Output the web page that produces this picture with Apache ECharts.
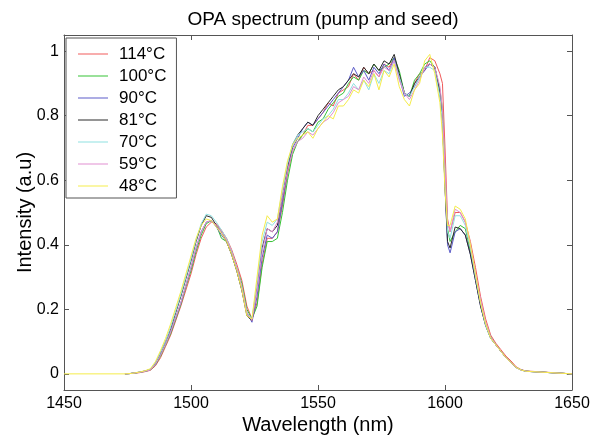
<!DOCTYPE html>
<html>
<head>
<meta charset="utf-8">
<script src="https://cdn.jsdelivr.net/npm/echarts@6/dist/echarts.min.js"></script>
<style>html,body{margin:0;padding:0;background:#fff}#c{width:602px;height:440px}</style>
</head>
<body>
<div id="c"></div>
<script>
const wavelength = [1450,
 1474,1476,1478,1480,1482,1484,1486,1488,1490,1492,1494,1496,1498,
 1500,1502,1504,1506,1508,1510,1512,1514,1516,1518,1520,1522,1524,1526,1528,
 1530,1532,1534,1536,1538,1540,1542,1544,1546,1548,1550,1552,1554,1556,1558,
 1560,1562,1564,1566,1568,1570,1572,1574,1576,1578,1580,1582,1584,1586,1588,1590,1592,1594,1596,1598,
 1599,1600,1601,
 1602,1604,1606,1608,1610,1612,1614,1616,1618,1620,1622,1624,1626,1628,1630,1632,
 1650];

const seriesNames = ['114°C','100°C','90°C','81°C','70°C','59°C','48°C'];
const seriesColors = ['#f05a5a','#35c235','#5a5ac8','#2a2a2a','#8fe0e0','#e08fd0','#f5ec4a'];

const t114 = [null,
 0,0.001,0.002,0.004,0.007,0.011,0.025,0.05,0.085,0.12,0.165,0.21,0.26,
 0.31,0.37,0.42,0.455,0.47,0.465,0.445,0.42,0.385,0.34,0.29,0.21,0.17,0.22,0.34,
 0.42,0.42,0.44,0.52,0.62,0.69,0.72,0.74,0.77,0.77,0.79,0.81,0.84,0.83,0.87,
 0.88,0.89,0.93,0.91,0.95,0.93,0.94,0.92,0.96,0.95,0.98,0.92,0.87,0.86,0.90,0.93,0.94,0.98,0.97,0.93,
 0.90,0.70,0.48,
 0.44,0.50,0.50,0.47,0.41,0.33,0.24,0.17,0.12,0.095,0.075,0.055,0.04,0.022,0.013,0.009,
 0];
const t100 = [null,
 0,0.001,0.003,0.005,0.008,0.012,0.028,0.055,0.09,0.125,0.17,0.215,0.27,
 0.32,0.38,0.43,0.465,0.475,0.46,0.42,0.41,0.38,0.33,0.28,0.2,0.17,0.21,0.33,
 0.41,0.41,0.42,0.50,0.60,0.68,0.72,0.74,0.76,0.75,0.78,0.79,0.82,0.84,0.86,
 0.87,0.90,0.92,0.91,0.94,0.93,0.96,0.94,0.95,0.96,0.98,0.94,0.87,0.86,0.91,0.93,0.96,0.97,0.95,0.88,
 0.82,0.62,0.45,
 0.41,0.44,0.46,0.45,0.38,0.30,0.22,0.155,0.115,0.09,0.07,0.05,0.035,0.02,0.012,0.008,
 0];
const t90 = [null,
 0,0.001,0.003,0.005,0.009,0.013,0.03,0.06,0.095,0.13,0.175,0.22,0.275,
 0.33,0.39,0.44,0.47,0.475,0.455,0.43,0.41,0.37,0.32,0.26,0.19,0.16,0.24,0.36,
 0.43,0.42,0.44,0.53,0.63,0.70,0.73,0.76,0.78,0.77,0.79,0.81,0.83,0.85,0.87,
 0.89,0.91,0.95,0.92,0.94,0.91,0.95,0.93,0.96,0.94,0.98,0.92,0.86,0.87,0.89,0.92,0.94,0.96,0.95,0.87,
 0.78,0.58,0.40,
 0.375,0.44,0.45,0.43,0.37,0.29,0.21,0.15,0.11,0.09,0.07,0.05,0.034,0.02,0.012,0.008,
 0];
const t81 = [null,
 0,0.001,0.003,0.006,0.009,0.014,0.033,0.065,0.1,0.14,0.19,0.24,0.295,
 0.35,0.41,0.46,0.49,0.485,0.46,0.44,0.41,0.37,0.32,0.26,0.18,0.165,0.27,0.39,
 0.45,0.44,0.46,0.55,0.64,0.71,0.74,0.76,0.78,0.77,0.80,0.82,0.84,0.86,0.88,
 0.89,0.91,0.93,0.92,0.95,0.93,0.96,0.94,0.97,0.96,0.99,0.93,0.87,0.86,0.90,0.92,0.95,0.96,0.95,0.87,
 0.79,0.58,0.41,
 0.39,0.455,0.45,0.43,0.37,0.29,0.21,0.15,0.11,0.09,0.07,0.05,0.034,0.02,0.012,0.008,
 0];
const t70 = [null,
 0,0.001,0.003,0.006,0.009,0.014,0.034,0.066,0.1,0.145,0.195,0.245,0.30,
 0.355,0.415,0.465,0.495,0.49,0.47,0.445,0.42,0.38,0.33,0.27,0.19,0.17,0.28,0.41,
 0.47,0.46,0.48,0.57,0.65,0.71,0.74,0.75,0.76,0.75,0.77,0.79,0.80,0.82,0.85,
 0.85,0.87,0.90,0.88,0.91,0.88,0.93,0.90,0.94,0.93,0.97,0.92,0.87,0.86,0.89,0.92,0.95,0.95,0.94,0.86,
 0.78,0.60,0.44,
 0.42,0.49,0.49,0.46,0.39,0.30,0.22,0.15,0.11,0.09,0.07,0.05,0.035,0.02,0.012,0.008,
 0];
const t59 = [null,
 0,0.001,0.003,0.005,0.008,0.012,0.03,0.058,0.092,0.13,0.175,0.22,0.275,
 0.33,0.39,0.44,0.47,0.475,0.46,0.44,0.415,0.38,0.33,0.27,0.19,0.165,0.26,0.38,
 0.45,0.44,0.47,0.55,0.63,0.69,0.72,0.73,0.75,0.74,0.76,0.78,0.79,0.81,0.84,
 0.85,0.86,0.89,0.88,0.92,0.90,0.94,0.92,0.95,0.94,0.97,0.91,0.87,0.85,0.88,0.91,0.95,0.96,0.95,0.89,
 0.82,0.64,0.47,
 0.44,0.51,0.50,0.47,0.40,0.31,0.23,0.16,0.115,0.09,0.07,0.05,0.035,0.02,0.012,0.008,
 0];
const t48 = [0,
 0,0.001,0.003,0.006,0.01,0.016,0.038,0.072,0.11,0.155,0.205,0.255,0.31,
 0.365,0.42,0.46,0.48,0.475,0.455,0.435,0.41,0.37,0.32,0.26,0.18,0.17,0.30,0.43,
 0.49,0.47,0.48,0.58,0.66,0.71,0.73,0.74,0.75,0.73,0.76,0.78,0.80,0.79,0.83,
 0.83,0.85,0.88,0.87,0.91,0.89,0.93,0.88,0.94,0.92,0.96,0.89,0.85,0.83,0.88,0.90,0.97,0.99,0.93,0.84,
 0.74,0.57,0.46,
 0.46,0.52,0.51,0.48,0.40,0.31,0.22,0.155,0.11,0.09,0.07,0.05,0.035,0.02,0.012,0.008,
 0];

const xTicks = [1450, 1500, 1550, 1600, 1650];
const yTicks = [0, 0.2, 0.4, 0.6, 0.8, 1];

const allSeries = [t114, t100, t90, t81, t70, t59, t48];
const font = 'Liberation Sans, Arial, sans-serif';
const axisCol = '#555';

const chart = echarts.init(document.getElementById('c'), null, {renderer: 'canvas'});

const series = allSeries.map((vals, i) => ({
  name: seriesNames[i],
  type: 'line',
  symbol: 'none',
  animation: false,
  data: wavelength.map((w, j) => [w, vals[j]]),
  lineStyle: {width: 1, color: seriesColors[i]},
  itemStyle: {color: seriesColors[i]}
}));

const baseX = {
  type: 'value', min: 1450, max: 1650, interval: 50,
  axisLine: {show: true, onZero: false, lineStyle: {color: axisCol, width: 1}},
  axisTick: {show: true, inside: true, length: 5, lineStyle: {color: axisCol}},
  splitLine: {show: false}
};
const baseY = {
  type: 'value', min: -0.05, max: 1.05,
  axisLine: {show: true, onZero: false, lineStyle: {color: axisCol, width: 1}},
  axisTick: {show: true, inside: true, length: 5, lineStyle: {color: axisCol},
    customValues: yTicks},
  splitLine: {show: false}
};

chart.setOption({
  animation: false,
  backgroundColor: '#fff',
  title: {
    text: 'OPA spectrum (pump and seed)', left: 318, top: 5, textAlign: 'center',
    textStyle: {fontFamily: font, fontSize: 19, fontWeight: 'normal', color: '#000'}
  },
  grid: {left: 64, right: 30, top: 35, bottom: 45, containLabel: false},
  legend: {
    orient: 'vertical', left: 66, top: 38,
    icon: 'rect', itemWidth: 30, itemHeight: 1, itemGap: 4,
    padding: [7, 10, 3, 12],
    borderColor: '#555', borderWidth: 1, backgroundColor: '#fff',
    textStyle: {fontFamily: font, fontSize: 17, color: '#000', padding: [0, 0, 0, 6], lineHeight: 18},
    data: seriesNames
  },
  xAxis: [
    Object.assign({}, baseX, {
      position: 'bottom',
      axisTick: Object.assign({}, baseX.axisTick, {customValues: xTicks}),
      axisLabel: {customValues: xTicks, margin: 6, fontFamily: font, fontSize: 16, color: '#000',
        formatter: v => String(v)},
      name: 'Wavelength (nm)', nameLocation: 'middle', nameGap: 25, nameMoveOverlap: false,
      nameTextStyle: {fontFamily: font, fontSize: 20, color: '#000'}
    }),
    Object.assign({}, baseX, {
      position: 'top',
      axisTick: Object.assign({}, baseX.axisTick, {customValues: xTicks}),
      axisLabel: {show: false}
    })
  ],
  yAxis: [
    Object.assign({}, baseY, {
      position: 'left',
      axisLabel: {customValues: yTicks, margin: 5, fontFamily: font, fontSize: 16, color: '#000'},
      name: 'Intensity (a.u)', nameLocation: 'middle', nameGap: 29, nameMoveOverlap: false,
      nameTextStyle: {fontFamily: font, fontSize: 20, color: '#000'}
    }),
    Object.assign({}, baseY, {
      position: 'right',
      axisLabel: {show: false}
    })
  ],
  series: series
});
</script>
</body>
</html>
